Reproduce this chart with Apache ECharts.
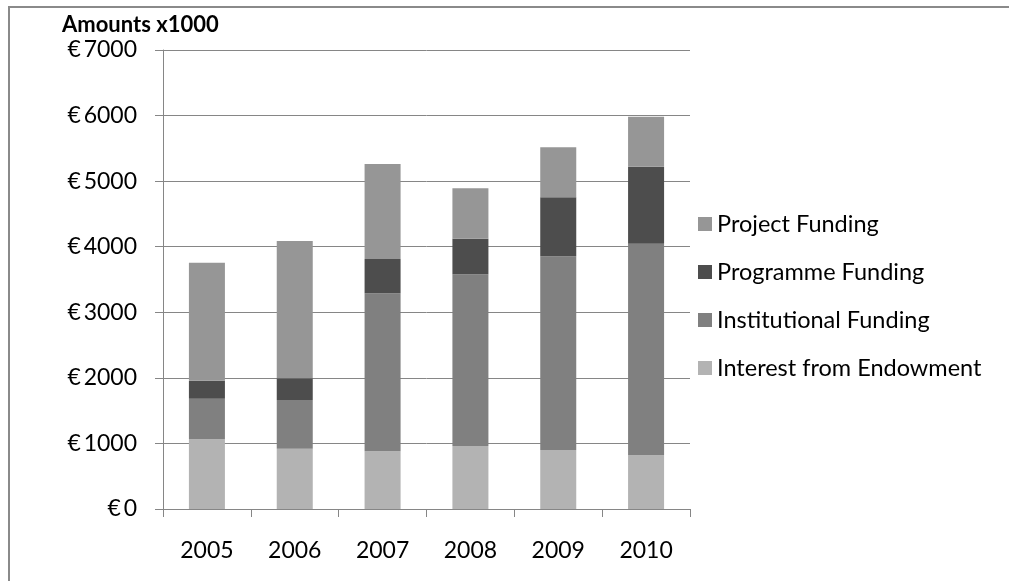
<!DOCTYPE html>
<html><head><meta charset="utf-8">
<script src="https://cdn.jsdelivr.net/npm/echarts@6/dist/echarts.min.js"></script>
<style>html,body{margin:0;padding:0;background:#fff}#c{width:1009px;height:581px}</style>
</head><body><div id="c"></div>
<script>
const years = ['2005','2006','2007','2008','2009','2010'];
const endowment = [1063, 920, 880, 961, 900, 819];
const institutional = [619, 742, 2409, 2618, 2954, 3227];
const programme = [275, 331, 524, 543, 900, 1174];
const project = [1800, 2094, 1449, 769, 761, 763];
const legendNames = ['Project Funding','Programme Funding','Institutional Funding','Interest from Endowment'];

const F = 'Lato, "Open Sans", sans-serif';
const chart = echarts.init(document.getElementById('c'), null, {renderer:'canvas'});
function s(name, data, color){
  return {name, type:'bar', stack:'a', data, barWidth:'41%',
    itemStyle:{color}, emphasis:{disabled:true}};
}
chart.setOption({
  animation:false,
  backgroundColor:'#fff',
  graphic:[
    {type:'line', shape:{x1:9, y1:7, x2:1009, y2:7}, style:{stroke:'#8a8a8a', lineWidth:2}},
    {type:'line', shape:{x1:9, y1:6, x2:9, y2:581}, style:{stroke:'#8a8a8a', lineWidth:2}},
    {type:'text', left:62, top:14, style:{text:'Amounts x1000', font:'bold 22px '+F, fill:'#000'}}
  ],
  grid:{left:163, right:319, top:50, bottom:72, containLabel:false},
  legend:{
    orient:'vertical', left:693, top:207, itemWidth:14, itemHeight:14, itemGap:24,
    icon:'rect', data:legendNames,
    textStyle:{fontFamily:F, fontSize:23.5, lineHeight:24, color:'#000'}
  },
  xAxis:{type:'category', data:years,
    axisLine:{lineStyle:{color:'#868686'}},
    axisTick:{show:true, length:8, lineStyle:{color:'#868686'}},
    axisLabel:{fontFamily:F, fontSize:23, color:'#000', margin:30}},
  yAxis:{type:'value', min:0, max:7000, interval:1000,
    axisLine:{show:true, lineStyle:{color:'#868686'}},
    axisTick:{show:true, length:8, lineStyle:{color:'#868686'}},
    splitLine:{lineStyle:{color:'#868686'}},
    axisLabel:{fontFamily:F, fontSize:23, color:'#000', margin:26, formatter:v=>'€\u2009'+v}},
  series:[
    s('Interest from Endowment', endowment, '#b3b3b3'),
    s('Institutional Funding', institutional, '#808080'),
    s('Programme Funding', programme, '#4d4d4d'),
    s('Project Funding', project, '#969696')
  ]
});
</script></body></html>
